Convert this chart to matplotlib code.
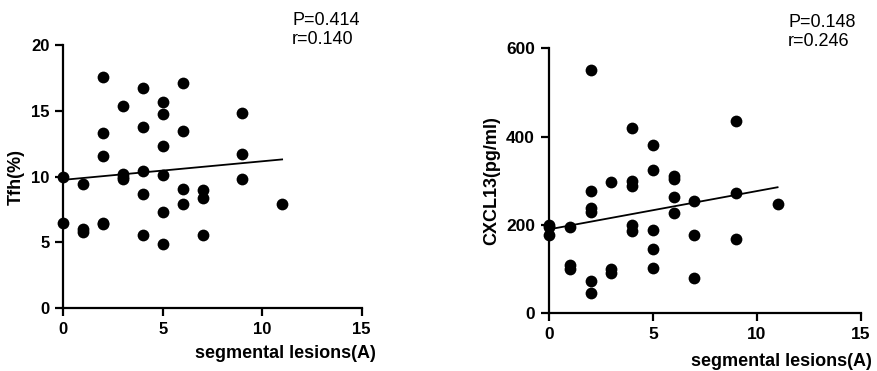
import matplotlib
matplotlib.use("Agg")
import matplotlib.pyplot as plt
import numpy as np

plt.rcParams["font.family"] = ["Liberation Sans", "DejaVu Sans"]

# Tfh(%) vs segmental lesions
lesions_a = [0, 0, 1, 1, 1, 2, 2, 2, 2, 2, 3, 3, 3, 3, 4, 4, 4, 4, 4,
             5, 5, 5, 5, 5, 5, 6, 6, 6, 6, 7, 7, 7, 9, 9, 9, 11]
tfh = [10.0, 6.5, 9.45, 6.0, 5.8, 17.6, 13.3, 11.6, 6.5, 6.4, 15.4, 10.2, 10.0, 9.8,
       16.7, 13.75, 10.45, 8.65, 5.6,
       15.65, 14.75, 12.3, 10.1, 7.3, 4.85, 17.15, 13.5, 9.1, 7.95,
       8.95, 8.35, 5.55, 14.85, 11.7, 9.85, 7.95]

# CXCL13 vs segmental lesions
lesions_b = [0, 0, 0, 1, 1, 1, 2, 2, 2, 2, 2, 2, 3, 3, 3, 4, 4, 4, 4, 4,
             5, 5, 5, 5, 5, 6, 6, 6, 6, 7, 7, 7, 9, 9, 9, 11]
cxcl13 = [200, 195, 177, 196, 109, 100, 552, 278, 238, 229, 74, 46, 298, 100, 92,
          420, 300, 289, 199, 186, 380, 325, 189, 145, 103, 312, 303, 264, 226,
          254, 177, 81, 435, 272, 168, 248]

stats_a = "P=0.414\nr=0.140"
stats_b = "P=0.148\nr=0.246"

fig = plt.figure(figsize=(8.77, 3.71), dpi=100)
ax1 = fig.add_axes([0.0722, 0.169, 0.3402, 0.7097])
ax2 = fig.add_axes([0.626, 0.1555, 0.3554, 0.7143])


def panel(ax, x, y, ylim, yticks, ylabel, tick_size):
    x = np.array(x, dtype=float)
    y = np.array(y, dtype=float)
    ax.scatter(x, y, s=72, color="black", zorder=3, clip_on=False, linewidths=0)
    m, b = np.polyfit(x, y, 1)
    xs = np.array([x.min(), x.max()])
    ax.plot(xs, m * xs + b, color="black", lw=1.3, zorder=2)
    ax.set_xlim(0, 15)
    ax.set_ylim(*ylim)
    ax.set_xticks([0, 5, 10, 15])
    ax.set_yticks(yticks)
    for side in ["top", "right"]:
        ax.spines[side].set_visible(False)
    for side in ["left", "bottom"]:
        ax.spines[side].set_linewidth(1.6)
    ax.tick_params(width=1.6, length=6, labelsize=tick_size, pad=4)
    for lab in ax.get_xticklabels() + ax.get_yticklabels():
        lab.set_fontweight("bold")
    ax.set_ylabel(ylabel, fontsize=13, fontweight="bold")
    ax.set_xlabel("segmental lesions(A)", fontsize=13, fontweight="bold")


panel(ax1, lesions_a, tfh, (0, 20), [0, 5, 10, 15, 20], "Tfh(%)", 12)
panel(ax2, lesions_b, cxcl13, (0, 600), [0, 200, 400, 600], "CXCL13(pg/ml)", 12.5)

ax1.xaxis.set_label_coords(0.743, -0.141)
ax1.yaxis.set_label_coords(-0.128, 0.5)
ax2.xaxis.set_label_coords(0.745, -0.150)
ax2.yaxis.set_label_coords(-0.155, 0.5)

fig.text(292 / 877, 1 - 12 / 371, stats_a, fontsize=13, ha="left", va="top",
         linespacing=1.15)
fig.text(788 / 877, 1 - 14 / 371, stats_b, fontsize=13, ha="left", va="top",
         linespacing=1.15)

fig.savefig("out.png", dpi=100)
